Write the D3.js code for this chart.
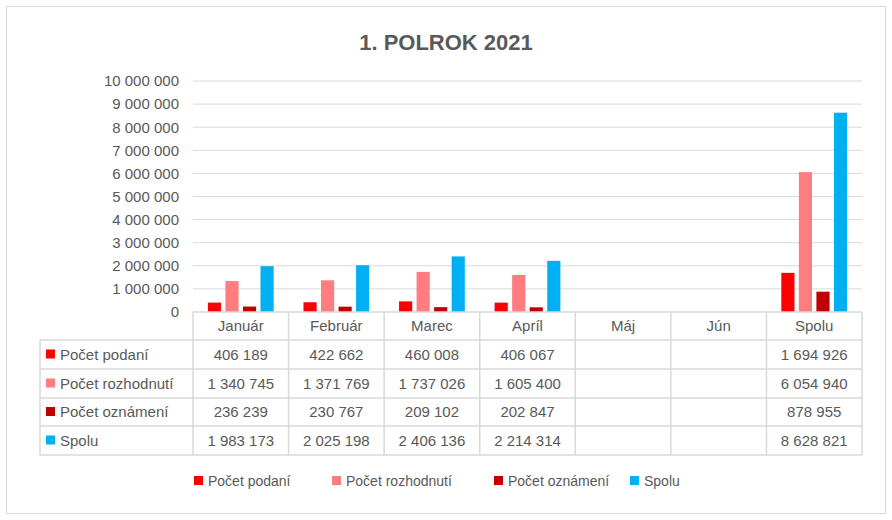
<!doctype html>
<html lang="sk">
<head>
<meta charset="utf-8">
<title>1. POLROK 2021</title>
<script src="https://cdn.jsdelivr.net/npm/d3@7"></script>
<style>
  body { margin: 0; background: #fff; }
  svg text { font-family: "Liberation Sans", Arial, sans-serif; fill: #595959; }
</style>
</head>
<body>
<svg id="chart" width="892" height="520"></svg>
<script>
// data
var months = ["Január", "Február", "Marec", "Apríl", "Máj", "Jún", "Spolu"];
var seriesNames = ["Počet podaní", "Počet rozhodnutí", "Počet oznámení", "Spolu"];
var seriesColors = ["#ff0000", "#ff7c80", "#c00000", "#00b0f0"];
var podania = [406189, 422662, 460008, 406067, null, null, 1694926];
var rozhodnutia = [1340745, 1371769, 1737026, 1605400, null, null, 6054940];
var oznamenia = [236239, 230767, 209102, 202847, null, null, 878955];
var spolu = [1983173, 2025198, 2406136, 2214314, null, null, 8628821];
var yTicks = [0, 1e6, 2e6, 3e6, 4e6, 5e6, 6e6, 7e6, 8e6, 9e6, 10e6];

var series = [podania, rozhodnutia, oznamenia, spolu];
var fmt = function(v) { return v == null ? "" : d3.format(",")(v).replace(/,/g, " "); };

var svg = d3.select("#chart");
svg.append("rect").attr("x", 6.5).attr("y", 6.5).attr("width", 879).attr("height", 507)
  .attr("fill", "#fff").attr("stroke", "#d9d9d9");

svg.append("text").attr("x", 446).attr("y", 50).attr("text-anchor", "middle")
  .attr("font-size", 22).attr("font-weight", "bold").text("1. POLROK 2021");

var x = d3.scaleBand().domain(months).range([193, 862]);
var y = d3.scaleLinear().domain([0, 10e6]).range([312, 81]);
var xs = d3.scaleBand().domain(d3.range(4)).range([0, x.bandwidth()]).paddingInner(0.25).paddingOuter(0.85);

// gridlines
svg.append("g").selectAll("line").data(yTicks.slice(1)).join("line")
  .attr("x1", 193).attr("x2", 862).attr("y1", d => y(d)).attr("y2", d => y(d))
  .attr("stroke", "#d9d9d9");

// y axis labels
var yAxis = d3.axisLeft(y).tickValues(yTicks).tickSize(0).tickPadding(14).tickFormat(fmt);
var ga = svg.append("g").attr("transform", "translate(193,0)").call(yAxis);
ga.select(".domain").remove();
ga.selectAll("text").attr("font-size", 15).style("font-family", "Liberation Sans, Arial, sans-serif").attr("fill", "#595959");

// bars
series.forEach(function(s, i) {
  svg.append("g").selectAll("rect").data(months.map((m, j) => ({m: m, v: s[j]})).filter(d => d.v != null))
    .join("rect")
    .attr("x", d => x(d.m) + xs(i)).attr("width", xs.bandwidth())
    .attr("y", d => y(d.v)).attr("height", d => y(0) - y(d.v))
    .attr("fill", seriesColors[i]);
});

// data table
var rowY = [312, 340, 369, 398, 426, 455];
var tbl = svg.append("g").attr("stroke", "#d9d9d9").attr("stroke-width", 1.5);
tbl.append("line").attr("x1", 193).attr("x2", 862).attr("y1", 312).attr("y2", 312);
rowY.slice(1).forEach(function(ry) {
  tbl.append("line").attr("x1", 40).attr("x2", 862).attr("y1", ry).attr("y2", ry);
});
months.forEach(function(m) {
  tbl.append("line").attr("x1", x(m)).attr("x2", x(m)).attr("y1", 312).attr("y2", 455);
});
tbl.append("line").attr("x1", 862).attr("x2", 862).attr("y1", 312).attr("y2", 455);
tbl.append("line").attr("x1", 40).attr("x2", 40).attr("y1", 340).attr("y2", 455);

svg.append("g").selectAll("text").data(months).join("text")
  .attr("x", d => x(d) + x.bandwidth() / 2).attr("y", 331).attr("text-anchor", "middle")
  .attr("font-size", 15).text(d => d);

series.forEach(function(s, i) {
  var cy = (rowY[i + 1] + rowY[i + 2]) / 2 + 5;
  svg.append("rect").attr("x", 46).attr("y", cy - 10).attr("width", 9).attr("height", 9).attr("fill", seriesColors[i]);
  svg.append("text").attr("x", 60).attr("y", cy).attr("font-size", 15).text(seriesNames[i]);
  svg.append("g").selectAll("text").data(months).join("text")
    .attr("x", (d) => x(d) + x.bandwidth() / 2).attr("y", cy).attr("text-anchor", "middle")
    .attr("font-size", 15).text((d, j) => fmt(s[j]));
});

// legend
var legendX = [194, 332, 494, 630];
seriesNames.forEach(function(n, i) {
  svg.append("rect").attr("x", legendX[i]).attr("y", 476).attr("width", 9).attr("height", 9).attr("fill", seriesColors[i]);
  svg.append("text").attr("x", legendX[i] + 14).attr("y", 486).attr("font-size", 14).text(n);
});
</script>
</body>
</html>
